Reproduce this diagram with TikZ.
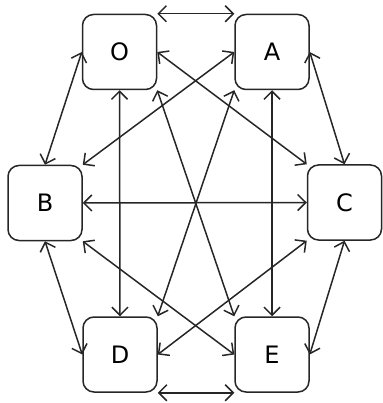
\documentclass[tikz,border=0pt]{standalone}
\usepackage{fontspec}
\setmainfont{DejaVu Sans}
\usetikzlibrary{arrows.meta}
\begin{document}
\begin{tikzpicture}[x=1pt,y=-1pt,
  box/.style={draw=black!85,line width=1.5pt,rounded corners=11pt,minimum width=74pt,minimum height=75pt,inner sep=0pt,font=\fontsize{24}{24}\selectfont},
  link/.style={draw=black!85,line width=1.5pt,{Straight Barb[length=8pt,width=16pt]}-{Straight Barb[length=8pt,width=16pt]}}]
\useasboundingbox (0,0) rectangle (382,403);
\node[box] (O) at (119.5,52) {O};
\node[box] (A) at (272,52) {A};
\node[box] (B) at (45,203) {B};
\node[box] (C) at (344.5,202.5) {C};
\node[box] (D) at (120,354.5) {D};
\node[box] (E) at (272,354.5) {E};
\draw[link] (O.north east) -- (A.north west);
\draw[link] (D.south east) -- (E.south west);
\draw[link] (O.west) -- (B.north);
\draw[link] (A.east) -- (C.north);
\draw[link] (B.south) -- (D.west);
\draw[link] (C.south) -- (E.east);
\draw[link] (O.south) -- (D.north);
\draw[link] (A.south) -- (E.north);
\draw[link] (B.east) -- (C.west);
\draw[link] (O.east) -- (C.north west);
\draw[link] (A.west) -- (B.north east);
\draw[link] (O.south east) -- (E.north west);
\draw[link] (A.south west) -- (D.north east);
\draw[link] (B.south east) -- (E.west);
\draw[link] (C.south west) -- (D.east);
\end{tikzpicture}
\end{document}
